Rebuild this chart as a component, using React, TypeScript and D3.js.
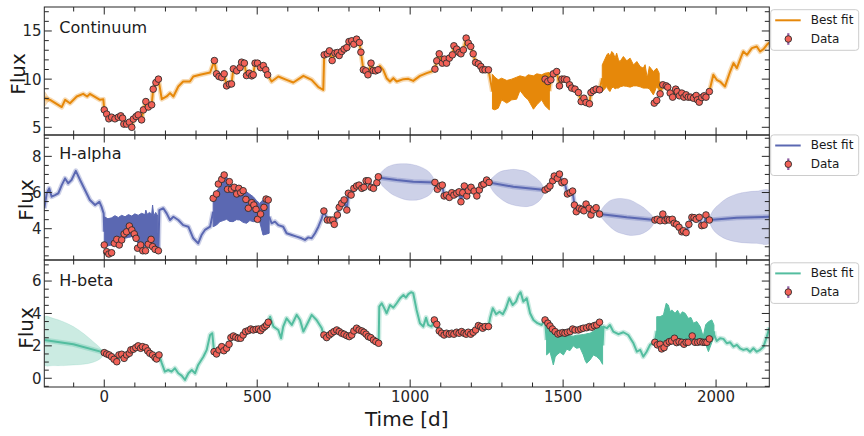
import * as d3 from "d3";

type Pt = [number, number];
type Band = [number, number, number];

const tLimits: [number, number] = [-196, 2174];
const timeTicks = [0, 500, 1000, 1500, 2000];

// ---- Continuum ----
const contFit: Pt[] = [
  [-196, 8.03], [-177, 7.85], [-139, 7.1], [-128, 7.85], [-112, 7.5], [-90, 8.2], [-69, 8.47],
  [-56, 8.2], [-47, 8.47], [-14, 7.85], [-3, 7.9],
  [182, 9.07], [188, 7.92], [204, 8.2], [215, 8.55], [226, 8.2], [242, 9.23], [258, 9.75],
  [280, 9.75], [291, 10.27], [313, 10.45], [346, 10.69],
  [547, 9.75], [569, 10.27], [596, 9.93], [618, 9.65], [651, 10.34], [678, 9.93], [700, 9.17], [716, 8.89],
  [901, 11.38], [912, 10.97], [923, 10.1], [934, 9.75], [945, 10.1], [956, 9.75], [978, 10.0],
  [994, 10.03], [1010, 9.82], [1032, 10.34], [1054, 10.62], [1070, 10.79],
  [1991, 10.45], [2002, 9.93], [2013, 9.75], [2029, 9.23], [2046, 10.79], [2057, 11.66], [2068, 11.14],
  [2078, 12.0], [2089, 12.87], [2101, 12.52], [2117, 13.22], [2133, 13.39], [2144, 12.87],
  [2155, 13.12], [2166, 13.56], [2174, 13.8],
];
const contObs: Pt[] = [
  [0, 6.81], [8, 6.37], [15, 5.88], [24, 6.05], [35, 5.88], [46, 6.05], [54, 6.19], [60, 5.95],
  [64, 5.33], [73, 5.33], [82, 5.53], [90, 5.0], [95, 5.85], [104, 6.12], [111, 6.29], [122, 5.77],
  [128, 6.81], [136, 7.67], [144, 7.1], [155, 7.33], [160, 8.96], [169, 9.65], [177, 10.0],
  [360, 11.93], [367, 10.55], [375, 10.27], [384, 10.17], [392, 10.55], [400, 9.3], [409, 9.48],
  [416, 9.5], [422, 11.07], [433, 10.86], [444, 11.2], [449, 11.76], [458, 11.66], [465, 10.37],
  [474, 10.62], [482, 10.34], [487, 10.45], [493, 11.66], [501, 11.66], [511, 11.2], [520, 11.41],
  [528, 10.97], [534, 10.45],
  [719, 12.52], [729, 12.63], [736, 12.94], [745, 11.93], [754, 12.7], [762, 12.76], [768, 12.45],
  [776, 12.87], [784, 13.12], [793, 13.28], [800, 13.9], [809, 13.98], [816, 13.63], [825, 14.15],
  [834, 13.8], [839, 12.8], [847, 10.97], [855, 10.86], [862, 10.45], [872, 11.66], [879, 10.9],
  [887, 10.86], [895, 10.97],
  [1081, 11.04], [1087, 11.9], [1095, 12.63], [1105, 11.66], [1112, 12.08], [1119, 11.66],
  [1128, 12.18], [1138, 12.52], [1143, 13.46], [1152, 13.12], [1160, 12.76], [1166, 12.63],
  [1174, 13.04], [1183, 14.26], [1190, 13.74], [1198, 13.39], [1206, 12.63], [1214, 11.73],
  [1223, 11.59], [1231, 11.31], [1237, 10.97], [1245, 10.97], [1256, 10.97],
  [1441, 10.0], [1450, 9.75], [1460, 9.93], [1468, 10.55], [1479, 10.79], [1488, 9.3], [1496, 10.0],
  [1504, 10.0], [1512, 9.93], [1521, 9.41], [1528, 9.07], [1539, 8.96], [1550, 8.61], [1559, 7.67],
  [1568, 8.02], [1575, 7.57], [1586, 7.44], [1591, 8.61], [1599, 8.82], [1608, 8.96], [1619, 8.89],
  [1798, 7.51], [1806, 7.78], [1817, 8.47], [1826, 9.41], [1837, 9.3], [1842, 9.17], [1850, 8.55],
  [1858, 8.13], [1868, 8.96], [1873, 8.71], [1880, 8.27], [1888, 8.55], [1895, 8.13], [1902, 8.37],
  [1909, 8.13], [1917, 8.13], [1926, 8.02], [1935, 8.3], [1939, 7.85], [1945, 7.61], [1953, 8.09],
  [1961, 8.27], [1967, 8.13], [1978, 8.71],
];
const contNoise: Band[][] = [
  [
    [1269, 6.9, 10.5], [1277, 6.81, 10.2], [1288, 6.99, 9.93], [1299, 7.85, 10.1], [1316, 7.51, 9.86],
    [1332, 7.85, 10.0], [1348, 7.92, 10.2], [1359, 8.82, 10.34], [1376, 8.13, 10.2],
    [1386, 7.85, 10.45], [1403, 6.88, 10.34], [1414, 7.33, 10.55], [1430, 7.85, 10.45],
    [1441, 7.23, 10.62], [1455, 6.81, 10.69],
  ],
  [
    [1628, 8.71, 11.48], [1643, 9.23, 12.52], [1648, 8.89, 12.7], [1653, 8.71, 12.35],
    [1659, 9.1, 12.87], [1664, 9.17, 12.7], [1670, 9.0, 12.18], [1675, 9.07, 12.7],
    [1681, 9.07, 12.0], [1686, 9.2, 11.83], [1697, 9.3, 12.35], [1708, 9.25, 11.9],
    [1719, 9.17, 12.18], [1730, 9.3, 11.48], [1741, 9.3, 11.83], [1752, 9.2, 11.31],
    [1762, 9.07, 11.14], [1768, 9.07, 11.5], [1775, 9.07, 10.1], [1782, 9.0, 11.31],
    [1795, 8.37, 10.79], [1806, 9.23, 11.14], [1814, 8.89, 10.62],
  ],
];
const contGaps: Band[][] = [
  [[-196, 7.15, 8.71], [-186, 7.55, 8.3], [-177, 7.85, 7.85]],
];

// ---- H-alpha ----
const haFit: Pt[] = [
  [-196, 5.13], [-188, 5.96], [-180, 6.23], [-172, 5.77], [-161, 5.86], [-150, 5.96], [-139, 6.41],
  [-128, 6.78], [-118, 6.51], [-107, 6.69], [-93, 7.2], [-79, 6.69], [-63, 6.14], [-47, 5.59],
  [-30, 5.31], [-16, 5.49], [-9, 5.22], [-2, 4.85],
  [180, 5.03], [193, 5.13], [204, 4.85], [215, 4.48], [226, 4.66], [242, 4.48], [258, 4.2],
  [275, 4.11], [291, 3.47], [307, 3.19], [318, 3.65], [329, 3.93], [346, 4.11],
  [547, 4.3], [558, 4.39], [569, 4.2], [585, 4.11], [596, 3.75], [613, 3.65], [629, 3.56],
  [645, 3.47], [656, 3.38], [667, 3.52], [678, 3.47], [689, 3.75], [700, 4.11], [711, 4.57],
  [901, 6.82], [956, 6.69], [1010, 6.6],
  [1337, 6.32],
  [1708, 4.63],
  [2068, 4.61], [2174, 4.66],
];
const haObs: Pt[] = [
  [0, 3.1], [8, 2.73], [15, 2.6], [24, 2.67], [33, 3.19], [41, 3.41], [49, 3.1], [57, 3.38],
  [65, 3.71], [73, 3.83], [82, 4.15], [90, 3.93], [98, 3.71], [104, 3.47], [109, 2.92], [119, 3.1],
  [126, 2.78], [135, 2.78], [144, 3.14], [153, 3.41], [158, 3.01], [166, 2.86], [177, 2.78],
  [356, 5.68], [367, 5.92], [373, 6.47], [384, 6.73], [392, 6.97], [403, 6.18], [409, 6.6],
  [416, 6.18], [425, 6.29], [433, 5.92], [440, 6.23], [446, 5.99], [454, 6.1], [463, 5.62],
  [471, 5.13], [482, 5.44], [489, 5.31], [496, 5.07], [501, 4.52], [511, 4.81], [522, 5.18],
  [529, 5.64], [536, 5.59],
  [718, 4.98], [729, 4.48], [738, 4.48], [747, 4.48], [752, 4.24], [762, 4.76], [768, 5.18],
  [776, 5.4], [784, 5.59], [793, 5.03], [798, 5.96], [807, 5.86], [816, 6.23], [825, 6.36],
  [833, 6.41], [842, 6.23], [849, 6.29], [856, 6.65], [863, 6.65], [872, 6.29], [880, 6.23],
  [891, 6.54], [896, 6.87],
  [1081, 6.56], [1089, 6.18], [1098, 6.36], [1105, 6.41], [1111, 5.81], [1119, 5.86], [1128, 5.73],
  [1136, 5.99], [1143, 5.86], [1152, 5.96], [1160, 6.04], [1166, 5.49], [1172, 5.99], [1177, 6.36],
  [1185, 5.81], [1190, 6.1], [1199, 6.29], [1209, 6.08], [1218, 5.81], [1226, 6.14], [1234, 6.41],
  [1241, 6.47], [1250, 6.69], [1258, 6.56],
  [1441, 6.14], [1450, 6.23], [1457, 6.36], [1466, 6.65], [1471, 6.91], [1481, 6.78], [1488, 7.02],
  [1496, 6.54], [1504, 6.6], [1514, 5.92], [1523, 5.99], [1531, 6.08], [1537, 5.31], [1543, 4.94],
  [1553, 5.13], [1561, 5.07], [1568, 4.99], [1575, 5.36], [1585, 5.13], [1591, 4.76], [1599, 5.03],
  [1608, 5.16], [1619, 4.81],
  [1800, 4.48], [1808, 4.52], [1817, 4.44], [1826, 4.81], [1833, 4.44], [1841, 4.52], [1847, 4.48],
  [1857, 4.52], [1863, 4.3], [1871, 4.24], [1879, 4.08], [1888, 3.83], [1893, 3.89], [1902, 3.78],
  [1911, 4.24], [1921, 4.63], [1928, 4.61], [1935, 4.52], [1945, 4.63], [1953, 4.17], [1961, 4.2],
  [1967, 4.76], [1978, 4.48],
];
const haNoise: Band[][] = [
  [
    [0, 3.01, 4.66], [12, 3.05, 4.55], [24, 3.1, 4.6], [35, 3.2, 4.72], [46, 3.28, 4.62],
    [57, 3.4, 4.74], [68, 3.47, 4.66], [79, 3.52, 4.78], [90, 3.56, 4.7], [100, 3.4, 4.82],
    [111, 3.19, 4.74], [122, 3.1, 4.85], [133, 3.01, 4.78], [136, 3.01, 5.03], [140, 3.01, 4.8],
    [148, 3.05, 4.9], [155, 3.01, 4.8], [158, 3.0, 5.31], [162, 2.9, 4.7], [168, 2.86, 4.9],
    [175, 2.82, 4.7],
  ],
  [
    [356, 4.11, 5.77], [367, 4.2, 6.1], [378, 4.39, 6.32], [389, 4.45, 6.6], [400, 4.52, 6.87],
    [410, 4.4, 6.5], [421, 4.39, 6.32], [432, 4.5, 6.4], [443, 4.48, 6.14], [454, 4.35, 6.2],
    [465, 4.3, 6.04], [476, 4.45, 5.9], [487, 4.39, 5.77], [498, 4.4, 5.55], [508, 4.39, 5.4],
    [519, 3.65, 5.6], [530, 3.7, 5.68], [539, 3.75, 5.59],
  ],
];
const haGaps: Band[][] = [
  [
    [896, 6.87, 6.87], [907, 6.41, 7.15], [923, 6.14, 7.39], [945, 5.86, 7.54], [967, 5.7, 7.59],
    [989, 5.59, 7.59], [1010, 5.57, 7.54], [1032, 5.62, 7.43], [1054, 5.77, 7.24],
    [1070, 5.99, 6.97], [1081, 6.56, 6.56],
  ],
  [
    [1258, 6.56, 6.56], [1272, 6.04, 6.87], [1294, 5.68, 7.15], [1316, 5.44, 7.24],
    [1337, 5.31, 7.28], [1359, 5.24, 7.24], [1381, 5.22, 7.15], [1403, 5.31, 6.91],
    [1425, 5.59, 6.6], [1435, 5.86, 6.32], [1441, 6.14, 6.14],
  ],
  [
    [1619, 4.81, 4.81], [1632, 4.48, 5.22], [1653, 4.11, 5.55], [1675, 3.83, 5.66],
    [1697, 3.71, 5.66], [1719, 3.63, 5.59], [1741, 3.65, 5.4], [1762, 3.75, 5.18],
    [1784, 4.0, 4.85], [1795, 4.24, 4.63], [1800, 4.48, 4.48],
  ],
  [
    [1978, 4.48, 4.48], [1991, 3.93, 5.03], [2013, 3.6, 5.4], [2035, 3.41, 5.68],
    [2068, 3.27, 5.92], [2100, 3.21, 6.03], [2133, 3.19, 6.08], [2174, 3.19, 6.1],
  ],
];

// ---- H-beta ----
const hbFit: Pt[] = [
  [-196, 2.36], [-101, 2.1],
  [188, 0.93], [198, 0.41], [209, 0.51], [220, 0.41], [231, 0.62], [242, 0.31], [253, 0.16],
  [264, -0.1], [275, 0.31], [286, 0.51], [297, 0.31], [307, 0.82], [324, 1.33], [335, 1.75],
  [346, 2.67], [353, 2.78],
  [542, 3.8], [553, 3.19], [569, 2.98], [578, 2.47], [585, 3.19], [596, 3.7], [613, 3.29],
  [629, 3.91], [640, 3.6], [651, 2.88], [667, 3.49], [678, 3.91], [694, 3.6], [711, 3.09], [716, 2.72],
  [899, 4.42], [907, 4.63], [918, 4.22], [923, 4.01], [934, 4.52], [945, 4.36], [956, 4.63],
  [967, 4.94], [978, 5.14], [986, 4.98], [994, 5.19], [1003, 5.31], [1010, 5.25], [1021, 4.22],
  [1032, 3.4], [1043, 3.19], [1052, 3.74], [1059, 3.29], [1070, 3.19],
  [1261, 3.7], [1270, 4.32], [1281, 3.95], [1292, 4.11], [1303, 3.95], [1313, 4.32], [1324, 4.94],
  [1335, 4.52], [1346, 4.73], [1354, 5.14], [1361, 5.31], [1370, 4.73], [1381, 4.94], [1392, 4.01],
  [1403, 3.6], [1416, 3.4], [1430, 3.29],
  [1632, 3.19], [1643, 3.09], [1653, 3.29], [1664, 2.88], [1681, 2.72], [1697, 2.84], [1713, 2.67],
  [1730, 2.16], [1741, 1.64], [1752, 1.75], [1762, 1.33], [1773, 1.64], [1784, 2.06], [1798, 2.26],
  [1994, 2.67], [2002, 2.3], [2013, 2.47], [2024, 2.43], [2035, 2.16], [2046, 2.22], [2057, 1.95],
  [2068, 2.06], [2078, 1.85], [2089, 1.75], [2101, 1.81], [2111, 1.64], [2122, 1.85], [2133, 1.64],
  [2144, 1.75], [2155, 1.95], [2166, 2.57], [2174, 3.12],
];
const hbObs: Pt[] = [
  [0, 1.58], [8, 1.5], [16, 1.44], [24, 1.33], [32, 1.17], [41, 1.02], [48, 1.44], [57, 1.48],
  [65, 1.23], [73, 1.44], [82, 1.54], [87, 1.75], [95, 1.79], [103, 1.89], [111, 2.0], [119, 1.85],
  [125, 1.95], [135, 1.89], [142, 1.69], [149, 1.54], [158, 1.44], [166, 1.27], [171, 1.19], [179, 1.44],
  [359, 1.64], [367, 1.5], [375, 1.75], [384, 1.95], [391, 1.7], [400, 1.85], [408, 2.1], [414, 2.51],
  [422, 2.61], [430, 2.53], [438, 2.47], [446, 2.47], [454, 2.67], [462, 2.88], [471, 2.94],
  [479, 3.04], [487, 2.98], [496, 3.02], [504, 3.04], [511, 2.94], [518, 3.09], [525, 3.19],
  [531, 3.29], [536, 3.46],
  [718, 2.67], [727, 2.51], [736, 2.67], [743, 2.78], [751, 2.88], [760, 2.98], [768, 2.88],
  [776, 2.78], [784, 2.72], [793, 2.63], [801, 2.57], [809, 2.67], [816, 2.92], [825, 3.09],
  [833, 2.98], [842, 2.92], [849, 2.84], [856, 2.72], [863, 2.57], [871, 2.51], [880, 2.36],
  [888, 2.26], [897, 2.16],
  [1079, 3.6], [1087, 3.33], [1095, 2.92], [1103, 2.78], [1111, 2.67], [1119, 2.78], [1128, 2.72],
  [1136, 2.78], [1143, 2.72], [1152, 2.84], [1160, 2.78], [1168, 2.88], [1176, 2.78], [1183, 2.72],
  [1190, 2.84], [1198, 2.72], [1206, 2.84], [1214, 2.98], [1223, 3.25], [1231, 3.19], [1237, 3.09],
  [1245, 3.19], [1256, 3.19],
  [1441, 3.6], [1450, 3.4], [1457, 3.23], [1465, 3.04], [1474, 2.88], [1483, 2.73], [1490, 2.78],
  [1499, 2.82], [1506, 2.78], [1514, 2.84], [1523, 2.88], [1531, 3.04], [1539, 2.98], [1550, 2.98],
  [1558, 3.04], [1566, 3.09], [1577, 3.12], [1586, 3.19], [1594, 3.15], [1602, 3.25], [1610, 3.29],
  [1619, 3.46],
  [1800, 2.22], [1808, 2.06], [1817, 2.1], [1822, 1.81], [1830, 1.89], [1839, 2.16], [1847, 2.26],
  [1855, 2.3], [1864, 2.47], [1871, 2.2], [1879, 2.26], [1888, 2.22], [1895, 2.1], [1902, 2.22],
  [1909, 2.22], [1922, 2.61], [1931, 2.22], [1940, 2.22], [1948, 2.26], [1957, 2.22], [1964, 2.22],
  [1970, 2.22], [1978, 2.43],
];
const hbNoise: Band[][] = [
  [
    [1446, 1.44, 3.29], [1457, 1.64, 3.1], [1463, 1.2, 3.0], [1468, 0.82, 2.92], [1474, 1.3, 2.85],
    [1479, 1.44, 2.8], [1490, 1.6, 2.7], [1501, 1.44, 2.67], [1512, 1.8, 2.7], [1522, 1.7, 2.62],
    [1533, 2.0, 2.6], [1544, 1.85, 2.66], [1555, 1.9, 2.67], [1566, 1.44, 2.7], [1572, 1.1, 2.72],
    [1577, 0.93, 2.75], [1588, 1.13, 2.78], [1599, 1.44, 2.9], [1610, 1.33, 3.1],
    [1621, 1.13, 3.25], [1629, 0.86, 3.19],
  ],
  [
    [1806, 2.06, 3.8], [1817, 2.0, 3.8], [1828, 1.85, 3.91], [1837, 2.1, 4.63], [1844, 2.2, 4.52],
    [1850, 2.2, 4.1], [1855, 2.2, 4.22], [1866, 2.3, 4.01], [1874, 2.2, 4.2], [1882, 2.15, 3.91],
    [1890, 2.1, 4.1], [1899, 2.1, 4.01], [1909, 2.15, 3.7], [1918, 2.15, 3.75], [1926, 2.15, 3.4],
    [1937, 2.15, 3.5], [1948, 2.15, 3.19], [1958, 2.15, 2.57], [1966, 2.1, 3.3], [1975, 1.64, 3.49],
    [1986, 2.2, 3.6], [1993, 2.5, 3.29],
  ],
];
const hbGaps: Band[][] = [
  [
    [-196, 0.82, 3.8], [-167, 0.78, 3.7], [-134, 0.78, 3.49], [-101, 0.82, 3.19], [-69, 0.86, 2.78],
    [-36, 0.99, 2.26], [-14, 1.19, 1.89], [-3, 1.44, 1.64], [0, 1.6, 1.6],
  ],
];

const X0 = 44.3;
const X1 = 769.3;
const font = "DejaVu Sans, sans-serif";
const dotFill = "#f26157";
const errColor = "#8e5ea2";

const panels = [
  {
    name: "Continuum", color: "#e6880a", fit: contFit, obs: contObs, noise: contNoise, gaps: contGaps,
    yLim: [4.2, 17.49], yTicks: [5, 10, 15], yMinor: 1, top: 7, bottom: 135,
    labelY: 33.3, fluxX: 24.5, fluxY: 74, legendTop: 9.7,
  },
  {
    name: "H-alpha", color: "#5b68b2", fit: haFit, obs: haObs, noise: haNoise, gaps: haGaps,
    yLim: [2.27, 9.18], yTicks: [4, 6, 8], yMinor: 0.5, top: 135, bottom: 260,
    labelY: 159.3, fluxX: 33, fluxY: 200, legendTop: 134.9,
  },
  {
    name: "H-beta", color: "#53bd9f", fit: hbFit, obs: hbObs, noise: hbNoise, gaps: hbGaps,
    yLim: [-0.54, 7.3], yTicks: [0, 2, 4, 6], yMinor: 0.5, top: 260, bottom: 387,
    labelY: 286, fluxX: 33, fluxY: 328, legendTop: 262.8,
  },
];

const x = d3.scaleLinear().domain(tLimits).range([X0, X1]);

// fit curve = model points + observations outside the noisy stretches, broken inside them
function fitSeries(fit: Pt[], obs: Pt[], noise: Band[][]) {
  const inside = (t: number) => noise.some((b) => t >= b[0][0] && t <= b[b.length - 1][0]);
  const pts: Pt[] = [...fit, ...obs].filter((p) => !inside(p[0]));
  noise.forEach((b) => {
    const s = b[0], e = b[b.length - 1];
    pts.push([s[0], (s[1] + s[2]) / 2]);
    pts.push([(s[0] + e[0]) / 2, NaN]);
    pts.push([e[0], (e[1] + e[2]) / 2]);
  });
  return pts.sort((a, b) => a[0] - b[0]);
}

function Panel({ p, idx }: { p: any; idx: number }) {
  const y = d3.scaleLinear().domain(p.yLim).range([p.bottom, p.top]);
  const clipId = `clip-${idx}`;
  const line = d3
    .line<Pt>()
    .defined((d) => !isNaN(d[1]))
    .x((d) => x(d[0]))
    .y((d) => y(d[1]));
  const series = fitSeries(p.fit, p.obs, p.noise);
  const area = d3
    .area<Band>()
    .x((d) => x(d[0]))
    .y0((d) => y(d[1]))
    .y1((d) => y(d[2]));
  const shape = d3.line<Pt>().curve(d3.curveCatmullRomClosed.alpha(0.5));
  const gapPath = (b: Band[]) => {
    const upper: Pt[] = b.map((d) => [x(d[0]), y(d[2])]);
    const lower: Pt[] = b
      .slice()
      .reverse()
      .filter((d) => d[1] !== d[2])
      .map((d) => [x(d[0]), y(d[1])]);
    return shape([...upper, ...lower]) as string;
  };

  const xMinor = d3.range(-100, tLimits[1], 100).filter((v) => !timeTicks.includes(v));
  const yMinor = d3
    .range(Math.ceil(p.yLim[0] / p.yMinor) * p.yMinor, p.yLim[1], p.yMinor)
    .filter((v: number) => !p.yTicks.some((t: number) => Math.abs(t - v) < 1e-6));
  const isLast = idx === panels.length - 1;

  return (
    <g>
      <defs>
        <clipPath id={clipId}>
          <rect x={X0} y={p.top} width={X1 - X0} height={p.bottom - p.top} />
        </clipPath>
      </defs>
      <g clipPath={`url(#${clipId})`}>
        {p.gaps.map((b: Band[], i: number) => (
          <path key={`g${i}`} d={gapPath(b)} fill={p.color} fillOpacity={0.3} stroke={p.color} strokeOpacity={0.15} />
        ))}
        <path d={line(series) as string} fill="none" stroke={p.color} strokeOpacity={0.3} strokeWidth={5} strokeLinejoin="round" />
        {p.noise.map((b: Band[], i: number) => (
          <path key={`n${i}`} d={area(b) as string} fill={p.color} stroke={p.color} strokeWidth={1} />
        ))}
        <path d={line(series) as string} fill="none" stroke={p.color} strokeWidth={2} strokeLinejoin="round" />
        {p.obs.map((d: Pt, i: number) => (
          <circle key={`o${i}`} cx={x(d[0])} cy={y(d[1])} r={3.3} fill={dotFill} stroke="#2e2e2e" strokeWidth={0.9} />
        ))}
      </g>
      <g stroke="#262626" strokeWidth={1}>
        {timeTicks.map((v) => (
          <g key={`xt${v}`}>
            <line x1={x(v)} x2={x(v)} y1={p.bottom} y2={p.bottom - 7.5} />
            <line x1={x(v)} x2={x(v)} y1={p.top} y2={p.top + 7.5} />
          </g>
        ))}
        {xMinor.map((v) => (
          <g key={`xm${v}`}>
            <line x1={x(v)} x2={x(v)} y1={p.bottom} y2={p.bottom - 4.5} />
            <line x1={x(v)} x2={x(v)} y1={p.top} y2={p.top + 4.5} />
          </g>
        ))}
        {p.yTicks.map((v: number) => (
          <g key={`yt${v}`}>
            <line x1={X0} x2={X0 + 7.5} y1={y(v)} y2={y(v)} />
            <line x1={X1} x2={X1 - 7.5} y1={y(v)} y2={y(v)} />
          </g>
        ))}
        {yMinor.map((v: number) => (
          <g key={`ym${v}`}>
            <line x1={X0} x2={X0 + 4.5} y1={y(v)} y2={y(v)} />
            <line x1={X1} x2={X1 - 4.5} y1={y(v)} y2={y(v)} />
          </g>
        ))}
      </g>
      <rect x={X0} y={p.top} width={X1 - X0} height={p.bottom - p.top} fill="none" stroke="#262626" strokeWidth={1} />
      {p.yTicks.map((v: number) => (
        <text key={`yl${v}`} x={41.5} y={y(v) + 5.4} textAnchor="end" fontSize={15} fontFamily={font} fill="#262626">
          {v}
        </text>
      ))}
      {isLast &&
        timeTicks.map((v) => (
          <text key={`xl${v}`} x={x(v)} y={402} textAnchor="middle" fontSize={15} fontFamily={font} fill="#262626">
            {v}
          </text>
        ))}
      <text x={59.3} y={p.labelY} fontSize={16} fontFamily={font} fill="#1a1a1a">
        {p.name}
      </text>
      <text
        transform={`translate(${p.fluxX},${p.fluxY}) rotate(-90)`}
        textAnchor="middle"
        fontSize={20}
        fontFamily={font}
        fill="#1a1a1a"
      >
        Flux
      </text>
      <g transform={`translate(770.7,${p.legendTop})`}>
        <rect x={0} y={0} width={88} height={40.6} rx={3} fill="white" fillOpacity={0.85} stroke="#cccccc" strokeWidth={1} />
        <line x1={4.5} x2={30} y1={10.6} y2={10.6} stroke={p.color} strokeWidth={2} />
        <text x={40} y={14.2} fontSize={12} fontFamily={font} fill="#1a1a1a">Best fit</text>
        <line x1={17.6} x2={17.6} y1={23.5} y2={35.1} stroke={errColor} strokeWidth={2.2} />
        <circle cx={17.6} cy={29.3} r={3.3} fill={dotFill} stroke="#2e2e2e" strokeWidth={0.9} />
        <text x={40} y={33.4} fontSize={12} fontFamily={font} fill="#1a1a1a">Data</text>
      </g>
    </g>
  );
}

export default function App() {
  return (
    <svg
      width={864}
      height={436}
      viewBox="0 0 864 436"
      style={{ position: "absolute", left: 0, top: 0, display: "block", background: "white" }}
    >
      <rect width={864} height={436} fill="white" />
      {panels.map((p, i) => (
        <Panel key={p.name} p={p} idx={i} />
      ))}
      <text x={(X0 + X1) / 2} y={426} textAnchor="middle" fontSize={20} fontFamily={font} fill="#1a1a1a">
        Time [d]
      </text>
    </svg>
  );
}
